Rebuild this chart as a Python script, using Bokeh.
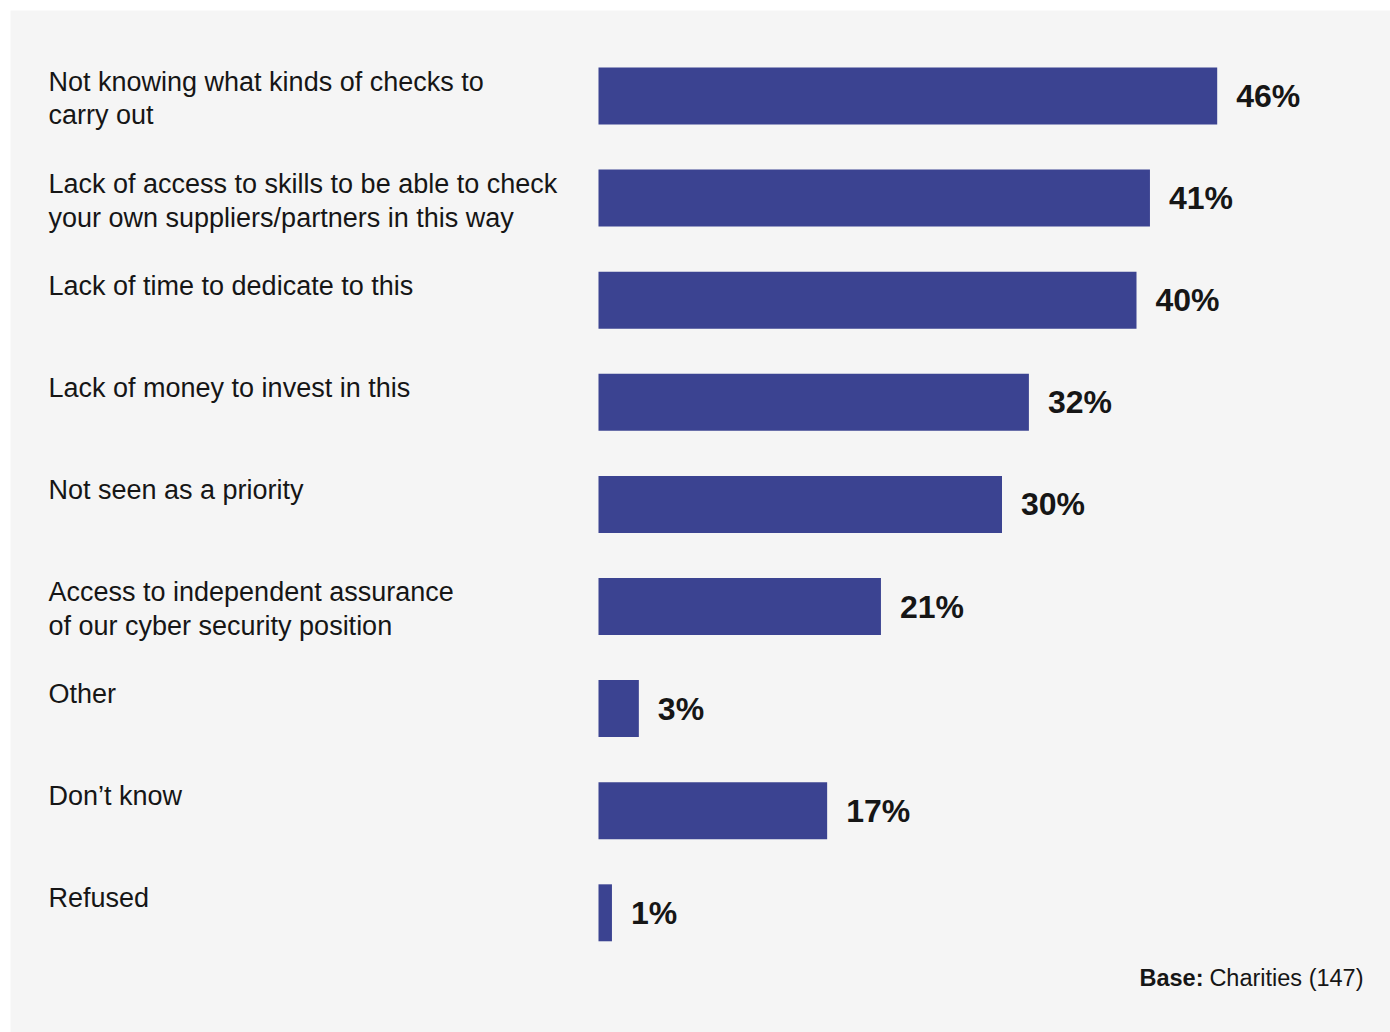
from bokeh.plotting import figure
from bokeh.models import ColumnDataSource, Range1d
from bokeh.embed import file_html
from bokeh.resources import INLINE
from bokeh.core.properties import value

categories = [
    "Not knowing what kinds of checks to\ncarry out",
    "Lack of access to skills to be able to check\nyour own suppliers/partners in this way",
    "Lack of time to dedicate to this",
    "Lack of money to invest in this",
    "Not seen as a priority",
    "Access to independent assurance\nof our cyber security position",
    "Other",
    "Don\u2019t know",
    "Refused",
]
values = [46, 41, 40, 32, 30, 21, 3, 17, 1]
value_labels = ["46%", "41%", "40%", "32%", "30%", "21%", "3%", "17%", "1%"]
base_bold = "Base:"
base_text = "Charities (147)"

W, H = 1390, 1032
PX = 13.45          # pixels per percentage point
ROW = 102.1         # pixels per row
FRAME_L, FRAME_T = 10, 10
BAR_X0 = 598
ROW0 = 95.5

x_start = -(BAR_X0 - FRAME_L) / PX
x_end = x_start + (W - FRAME_L) / PX
y_top = -(ROW0 - FRAME_T) / ROW
y_bottom = y_top + (H - FRAME_T) / ROW

FONT = "Liberation Sans"
BAR_COLOR = "#3B4391"
TEXT_COLOR = "#161616"

idx = list(range(len(categories)))
src = ColumnDataSource(dict(
    y=idx,
    v=values,
    lab=value_labels,
    cat=categories,
    ytop=[i - 0.279 - 1 / ROW for i in idx],
    xlab=[x_start + 38 / PX for _ in idx],
))

p = figure(width=W, height=H, output_backend="svg", toolbar_location=None,
           x_range=Range1d(x_start, x_end), y_range=Range1d(y_bottom, y_top),
           min_border_left=FRAME_L, min_border_top=FRAME_T,
           min_border_right=0, min_border_bottom=0,
           border_fill_color="white", background_fill_color="#f5f5f5",
           outline_line_color=None)
p.axis.visible = False
p.xgrid.visible = False
p.ygrid.visible = False

p.hbar(y="y", left=0, right="v", height=0.558, source=src,
       fill_color=BAR_COLOR, line_color=None)

p.text(x="v", y="y", text="lab", source=src, x_offset=19,
       text_font=value(FONT), text_font_style="bold", text_font_size="32px",
       text_align="left", text_baseline="middle", text_color=TEXT_COLOR)

p.text(x="xlab", y="ytop", text="cat", source=src,
       text_font=value(FONT), text_font_size="27px", text_line_height=1.13,
       text_align="left", text_baseline="top", text_color=TEXT_COLOR)

y_base = (977 - FRAME_T) / ROW + y_top
p.text(x=[x_end], y=[y_base], text=[base_text], x_offset=-27,
       text_font=value(FONT), text_font_size="23.5px",
       text_align="right", text_baseline="middle", text_color=TEXT_COLOR)
p.text(x=[x_end], y=[y_base], text=[base_bold], x_offset=-27 - 154 - 6,
       text_font=value(FONT), text_font_size="23.5px", text_font_style="bold",
       text_align="right", text_baseline="middle", text_color=TEXT_COLOR)

open("out.html", "w").write(file_html(p, INLINE))
